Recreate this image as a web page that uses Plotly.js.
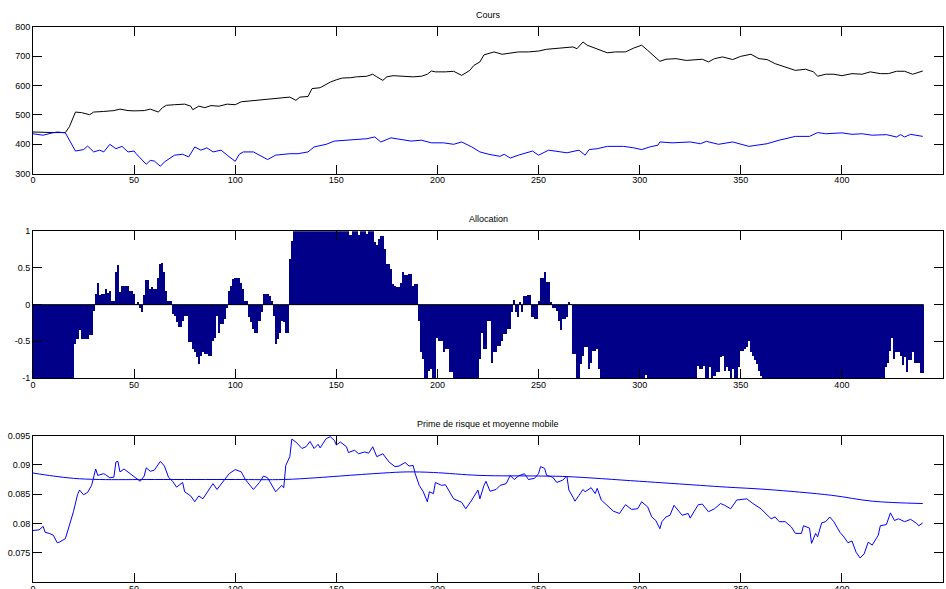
<!DOCTYPE html>
<html>
<head>
<meta charset="utf-8">
<script src="https://cdn.plot.ly/plotly-3.0.1.min.js"></script>
<style>
html,body{margin:0;padding:0;background:#fff;}
#chart{width:946px;height:589px;}
</style>
</head>
<body>
<div id="chart"></div>
<script>
// ---- Panel 1 : Cours (two price series) ----
var coursBlackX = [0,5,10,16,18,21,24,28,30,35,40,43,47,50,55,58,62,64,66,70,75,78,79,82,85,88,92,96,100,103,107,112,118,123,127,130,132,136,138,142,144,147,150,153,157,160,165,168,170,173,175,178,183,188,192,195,197,199,204,208,212,216,218,221,223,226,228,232,236,240,245,250,254,260,267,269,272,274,278,281,284,288,293,297,301,304,307,310,313,318,323,328,331,334,337,341,346,350,355,359,363,367,372,377,382,386,388,392,396,400,405,410,414,419,423,427,431,435,440];
var coursBlack = [442,440,440,440,460,510,508,501,510,512,515,520,515,514,515,520,510,525,533,535,537,530,518,530,525,532,530,537,535,545,548,552,556,559,561,550,561,563,590,593,601,612,620,626,627,630,632,639,630,618,630,634,632,630,632,639,650,647,647,649,635,652,669,681,705,711,715,707,712,715,715,718,724,728,732,726,749,738,728,720,712,715,715,728,738,720,703,683,690,692,686,690,690,681,692,698,689,700,707,692,689,675,664,652,656,647,632,639,639,634,641,639,647,641,641,649,649,639,650];

var coursBlueX = [0,5,9,12,16,18,21,25,27,30,33,35,38,41,44,47,50,51,54,56,58,60,63,65,70,74,77,80,83,86,89,93,96,100,102,104,109,114,116,120,127,131,136,139,145,149,155,160,165,169,172,177,183,187,192,197,203,208,212,217,221,226,231,233,236,240,247,250,255,260,264,270,273,275,279,284,292,297,301,305,309,310,316,325,330,333,339,346,354,363,369,377,384,388,392,400,405,410,415,422,427,429,431,434,440];
var coursBlue = [436,431,438,442,439,414,377,382,394,374,380,374,400,385,393,374,377,368,345,332,345,343,325,340,363,366,357,391,380,388,374,380,363,342,366,374,374,357,348,363,368,368,374,391,400,411,414,419,419,425,408,422,416,411,414,405,405,400,408,391,374,365,359,366,353,363,377,363,380,374,371,380,363,382,385,393,393,388,382,391,397,408,405,408,402,410,400,408,393,402,414,427,427,440,436,439,434,436,431,433,425,433,425,434,427];

// ---- Panel 2 : Allocation (one bar per period, index 0..440) ----
var allocation = [
-1,-1,-1,-1,-1,-1,-1,-1,-1,-1,
-1,-1,-1,-1,-1,-1,-1,-1,-1,-1,
-1,-0.54,-0.47,-0.35,-0.47,-0.47,-0.47,-0.47,-0.42,-0.42,
-0.08,0.15,0.30,0.13,0.15,0.15,0.22,0.16,0.19,0.05,
0.05,0.44,0.54,0.17,0.26,0.26,0.26,0.26,0.18,0.18,
0.15,0.01,0.04,-0.04,-0.10,0.13,0.34,0.34,0.22,0.24,
0.21,0.21,0.36,0.55,0.57,0.44,0.19,0.05,0.05,-0.13,
-0.15,-0.24,-0.30,-0.30,-0.22,-0.15,-0.15,-0.51,-0.51,-0.60,
-0.65,-0.72,-0.81,-0.70,-0.65,-0.67,-0.67,-0.70,-0.70,-0.50,
-0.45,-0.15,-0.39,-0.26,-0.26,-0.20,-0.04,0.19,0.26,0.35,
0.36,0.36,0.37,0.30,0.22,0.05,0.05,-0.17,-0.24,-0.33,
-0.38,-0.38,-0.22,-0.10,0.15,0.15,0.15,0.12,0.05,-0.15,
-0.54,-0.47,-0.38,-0.22,-0.24,-0.38,-0.38,0.62,0.87,1,
1,1,1,1,1,1,1,1,1,1,
1,1,1,1,1,1,1,1,1,1,
1,1,1,1,1,1,1,0.95,1,1,
1,0.95,1,1,1,0.96,1,1,1,0.85,
0.81,0.90,0.94,0.94,0.76,0.55,0.55,0.48,0.28,0.26,
0.24,0.24,0.30,0.45,0.40,0.40,0.42,0.42,0.26,0.28,
0.28,-0.22,-0.65,-0.74,-1,-1,-0.90,-0.88,-1,-1,
-0.45,-0.49,-0.49,-0.65,-0.60,-0.60,-0.92,-0.92,-1,-1,
-1,-1,-1,-1,-1,-1,-1,-1,-1,-1,
-1,-0.74,-0.38,-0.60,-0.60,-0.22,-0.22,-0.79,-0.65,-0.65,
-0.56,-0.56,-0.49,-0.40,-0.40,-0.33,-0.33,-0.10,0.07,-0.10,
-0.17,0.03,-0.10,0.12,0.12,0.13,0.13,-0.17,-0.20,-0.20,
0.05,0.37,0.37,0.44,0.31,0.31,0.03,-0.04,-0.04,-0.08,
-0.22,-0.34,-0.20,-0.20,-0.17,0.03,0.01,-0.67,-0.67,-1,
-1,-0.81,-0.70,-0.58,-0.58,-0.88,-0.79,-0.63,-0.63,-0.60,
-0.88,-1,-1,-1,-1,-1,-1,-1,-1,-1,
-1,-1,-1,-1,-1,-1,-1,-1,-1,-1,
-1,-1,-1,-0.96,-1,-1,-1,-1,-1,-1,
-1,-1,-1,-1,-1,-1,-1,-1,-1,-1,
-1,-1,-1,-1,-1,-1,-1,-1,-1,-0.83,
-0.88,-0.88,-0.83,-1,-1,-0.85,-1,-0.97,-0.92,-0.92,
-0.72,-0.70,-0.90,-0.85,-0.90,-1,-0.88,-1,-1,-0.85,
-0.63,-0.63,-0.61,-0.58,-0.50,-0.65,-0.70,-0.76,-0.81,-0.90,
-0.97,-1,-1,-1,-1,-1,-1,-1,-1,-1,
-1,-1,-1,-1,-1,-1,-1,-1,-1,-1,
-1,-1,-1,-1,-1,-1,-1,-1,-1,-1,
-1,-1,-1,-1,-1,-1,-1,-1,-1,-1,
-1,-1,-1,-1,-1,-1,-1,-1,-1,-1,
-1,-1,-1,-1,-1,-1,-1,-1,-1,-1,
-1,-1,-0.85,-0.79,-0.63,-0.46,-0.74,-0.65,-0.65,-0.70,
-0.82,-0.72,-0.92,-0.76,-0.76,-0.65,-0.79,-0.79,-0.79,-0.93,
-0.93
];
var allocationX = allocation.map(function(v,i){return i;});

// ---- Panel 3 : Prime de risque et moyenne mobile ----
var primeX = [0,3,5,6,8,10,12,13,16,17,20,22,23,25,27,29,31,32,35,36,38,40,41,42,43,45,47,49,50,53,55,56,58,60,63,65,67,69,71,74,75,78,80,82,84,86,89,91,94,97,100,103,105,107,109,112,114,116,118,120,123,124,125,127,128,130,133,135,137,139,141,142,145,147,149,150,152,155,156,159,161,164,166,168,170,173,176,179,181,184,186,188,189,191,193,195,196,198,199,202,204,206,208,212,214,217,218,220,221,223,224,226,229,231,234,236,238,240,243,245,248,250,251,253,254,257,259,262,264,265,267,268,270,272,273,276,278,279,281,284,287,290,293,296,299,301,304,306,308,310,311,313,315,317,319,321,324,325,327,329,331,334,337,340,342,345,348,353,356,360,362,365,367,369,372,375,377,380,381,384,385,387,388,390,392,394,396,399,401,403,405,407,409,411,413,415,418,419,422,424,426,428,431,434,437,438,440];
var prime = [0.0788,0.0789,0.0795,0.0785,0.0783,0.0780,0.0767,0.0768,0.0774,0.0785,0.0820,0.0849,0.0857,0.0849,0.0853,0.0865,0.0893,0.0882,0.0885,0.0883,0.0878,0.0879,0.0905,0.0906,0.0888,0.0893,0.0888,0.0882,0.0879,0.0872,0.0881,0.0895,0.0889,0.0891,0.0906,0.0898,0.0879,0.0872,0.0862,0.0870,0.0854,0.0847,0.0837,0.0847,0.0842,0.0853,0.0868,0.0858,0.0871,0.0885,0.0892,0.0888,0.0875,0.0866,0.0858,0.0870,0.0881,0.0878,0.0865,0.0854,0.0865,0.0861,0.0899,0.0914,0.0944,0.0939,0.0928,0.0931,0.0940,0.0928,0.0935,0.0929,0.0945,0.0948,0.0942,0.0934,0.0939,0.0931,0.0921,0.0925,0.0919,0.0922,0.0920,0.0931,0.0914,0.0919,0.0905,0.0897,0.0898,0.0904,0.0898,0.0899,0.0885,0.0865,0.0854,0.0837,0.0854,0.0851,0.0870,0.0865,0.0866,0.0854,0.0842,0.0836,0.0825,0.0840,0.0845,0.0857,0.0842,0.0865,0.0872,0.0855,0.0858,0.0865,0.0868,0.0882,0.0875,0.0881,0.0885,0.0875,0.0877,0.0885,0.0897,0.0894,0.0882,0.0879,0.0870,0.0874,0.0881,0.0857,0.0845,0.0838,0.0848,0.0858,0.0854,0.0861,0.0851,0.0860,0.0840,0.0831,0.0821,0.0817,0.0832,0.0824,0.0825,0.0837,0.0828,0.0811,0.0805,0.0791,0.0803,0.0811,0.0814,0.0831,0.0822,0.0814,0.0817,0.0809,0.0821,0.0832,0.0833,0.0820,0.0825,0.0834,0.0831,0.0825,0.0840,0.0842,0.0834,0.0825,0.0818,0.0808,0.0811,0.0803,0.0803,0.0794,0.0783,0.0783,0.0796,0.0792,0.0766,0.0783,0.0777,0.0801,0.0803,0.0811,0.0803,0.0785,0.0777,0.0767,0.0770,0.0751,0.0741,0.0748,0.0768,0.0763,0.0780,0.0796,0.0798,0.0818,0.0805,0.0808,0.0803,0.0807,0.0800,0.0796,0.0801];

var moyenneX = [0,10,20,33,60,100,124,140,152,173,185,198,221,250,264,300,330,343,363,395,415,440];
var moyenne = [0.0886,0.0881,0.0877,0.0875,0.0875,0.0875,0.0875,0.0878,0.0881,0.0886,0.0888,0.0887,0.0882,0.0881,0.0880,0.0872,0.0865,0.0862,0.0858,0.0848,0.0838,0.0834];

var titles = ['Cours','Allocation','Prime de risque et moyenne mobile'];
var xTicks = [0,50,100,150,200,250,300,350,400,450];

var FONT = 'Liberation Sans, Arial, Helvetica, sans-serif';
function xax(anchor){
  return {domain:[0,1], anchor:anchor, range:[0,450], tickvals:xTicks, ticks:'inside', ticklen:9,
    tickcolor:'#000', showline:true, linecolor:'#000', linewidth:1, mirror:'ticks', showgrid:false,
    zeroline:false, automargin:false, ticklabelstandoff:-2, tickfont:{family:FONT,size:9,color:'#000'}};
}
function yax(anchor, dom, rng, tv, tt){
  return {domain:dom, anchor:anchor, range:rng, tickvals:tv, ticktext:tt, ticks:'inside', ticklen:9,
    tickcolor:'#000', showline:true, linecolor:'#000', linewidth:1, mirror:'ticks', showgrid:false,
    zeroline:false, automargin:false, tickfont:{family:FONT,size:9,color:'#000'}};
}

var traces = [
  {x:coursBlackX, y:coursBlack, type:'scatter', mode:'lines', line:{color:'#000000', width:1}, xaxis:'x', yaxis:'y', hoverinfo:'skip'},
  {x:coursBlueX, y:coursBlue, type:'scatter', mode:'lines', line:{color:'#0000ff', width:1}, xaxis:'x', yaxis:'y', hoverinfo:'skip'},
  {x:allocationX, y:allocation, type:'bar', marker:{color:'#000088', line:{width:0}}, width:1, xaxis:'x2', yaxis:'y2', hoverinfo:'skip'},
  {x:primeX, y:prime, type:'scatter', mode:'lines', line:{color:'#0000ff', width:1}, xaxis:'x3', yaxis:'y3', hoverinfo:'skip'},
  {x:moyenneX, y:moyenne, type:'scatter', mode:'lines', line:{color:'#0000ff', width:1, shape:'spline'}, xaxis:'x3', yaxis:'y3', hoverinfo:'skip'}
];

var d1=[0.7358,1], d2=[0.3676,0.6319], d3=[0,0.2638];
var layout = {
  width:946, height:589, showlegend:false,
  paper_bgcolor:'#ffffff', plot_bgcolor:'#ffffff',
  margin:{l:33, r:3, t:27, b:7, pad:0},
  bargap:0,
  font:{family:FONT, size:9, color:'#000'},
  xaxis:xax('y'), yaxis:yax('x', d1, [300,800], [300,400,500,600,700,800], ['300','400','500','600','700','800']),
  xaxis2:xax('y2'), yaxis2:yax('x2', d2, [-1,1], [-1,-0.5,0,0.5,1], ['-1','-0.5','0','0.5','1']),
  xaxis3:xax('y3'), yaxis3:yax('x3', d3, [0.07,0.095], [0.075,0.08,0.085,0.09,0.095], ['0.075','0.08','0.085','0.09','0.095']),
  shapes:[{type:'line', xref:'x2', yref:'y2', x0:-0.5, x1:allocation.length-0.5, y0:0, y1:0, line:{color:'#000', width:1}}],
  annotations:[d1,d2,d3].map(function(d,i){
    return {text:titles[i], xref:'paper', yref:'paper', x:0.5, y:d[1], xanchor:'center', yanchor:'bottom', yshift:5,
      showarrow:false, font:{family:FONT, size:9, color:'#000'}};
  })
};
Plotly.newPlot('chart', traces, layout, {displayModeBar:false, staticPlot:true});
</script>
</body>
</html>
